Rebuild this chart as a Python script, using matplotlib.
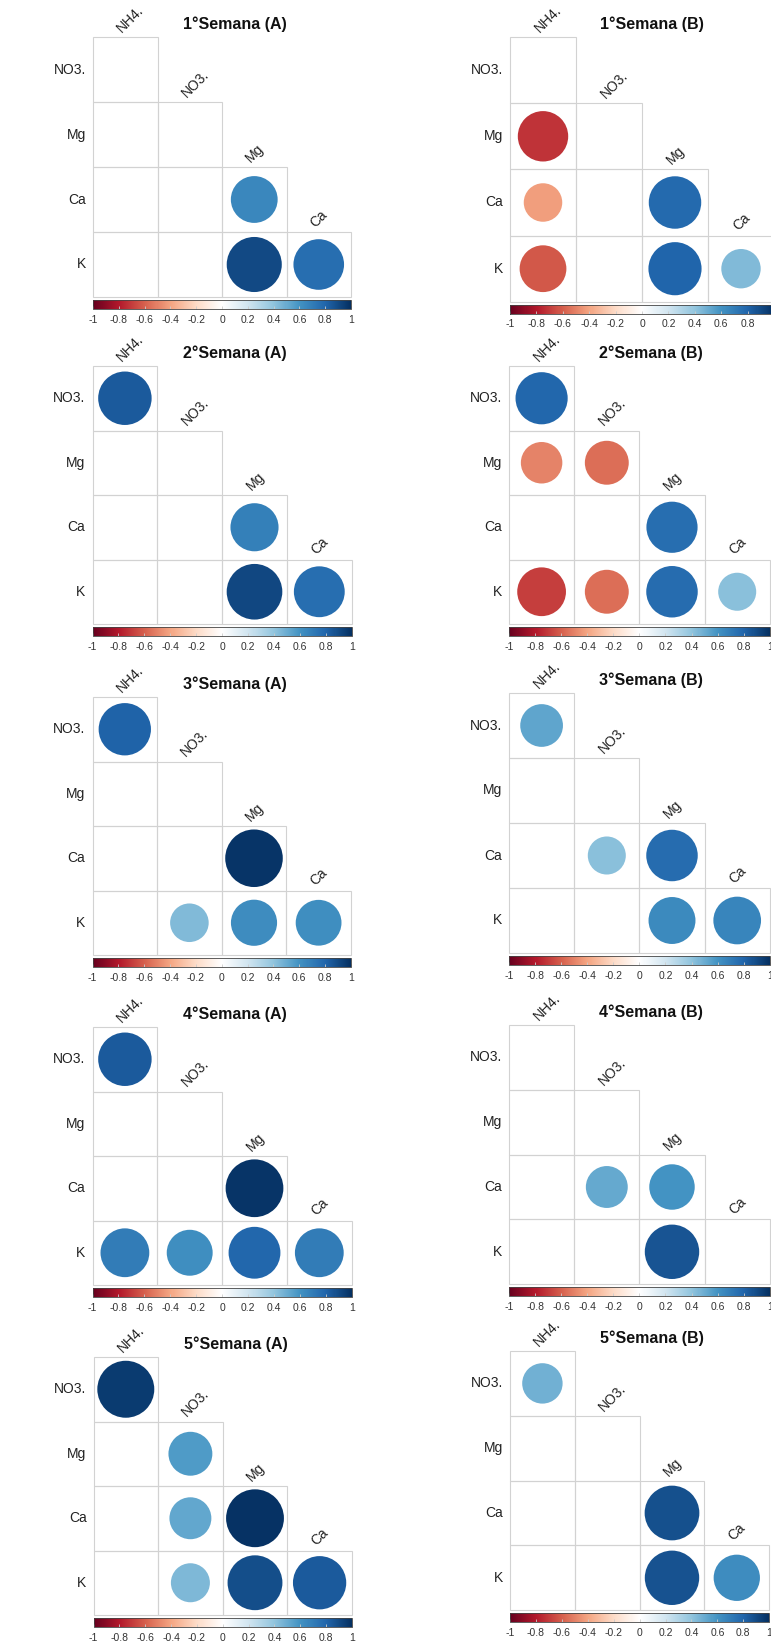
import numpy as np
import matplotlib
matplotlib.use("Agg")
import matplotlib.pyplot as plt
from matplotlib.colors import LinearSegmentedColormap, Normalize
from matplotlib.patches import Ellipse, Rectangle
from matplotlib.cm import ScalarMappable

plt.rcParams['font.family'] = ['Liberation Sans', 'DejaVu Sans']

NA = np.nan

# variables (rows and columns of the lower triangle)
row_labels = ["NO3.", "Mg", "Ca", "K"]
col_labels = ["NH4.", "NO3.", "Mg", "Ca"]

# significant correlations only, lower triangle row by row (blank = NA)
sem1_A = [[NA], [NA, NA], [NA, NA, 0.65], [NA, NA, 0.90, 0.76]]
sem1_B = [[NA], [-0.72, NA], [-0.42, NA, 0.78], [-0.62, NA, 0.80, 0.44]]
sem2_A = [[0.84], [NA, NA], [NA, NA, 0.68], [NA, NA, 0.91, 0.76]]
sem2_B = [[0.79], [-0.50, -0.56], [NA, NA, 0.76], [-0.69, -0.56, 0.77, 0.42]]
sem3_A = [[0.81], [NA, NA], [NA, NA, 0.98], [NA, 0.44, 0.63, 0.62]]
sem3_B = [[0.53], [NA, NA], [NA, 0.42, 0.77], [NA, NA, 0.64, 0.66]]
sem4_A = [[0.84], [NA, NA], [NA, NA, 0.98], [0.70, 0.62, 0.79, 0.70]]
sem4_B = [[NA], [NA, NA], [NA, 0.51, 0.60], [NA, NA, 0.86, NA]]
sem5_A = [[0.96], [NA, 0.57], [NA, 0.52, 0.99], [NA, 0.45, 0.89, 0.84]]
sem5_B = [[0.48], [NA, NA], [NA, NA, 0.88], [NA, NA, 0.87, 0.63]]

titles = ["1°Semana (A)", "1°Semana (B)", "2°Semana (A)", "2°Semana (B)",
          "3°Semana (A)", "3°Semana (B)", "4°Semana (A)", "4°Semana (B)",
          "5°Semana (A)", "5°Semana (B)"]
panels = [sem1_A, sem1_B, sem2_A, sem2_B, sem3_A, sem3_B,
          sem4_A, sem4_B, sem5_A, sem5_B]

cbar_ticks = [-1, -0.8, -0.6, -0.4, -0.2, 0, 0.2, 0.4, 0.6, 0.8, 1]

# grid position of each panel in pixels: left, top, cell width, cell height
geom = [(93, 37, 64.5, 65), (510, 37, 66, 66.2),
        (92.5, 366, 64.8, 64.5), (509, 366, 65.2, 64.5),
        (92.5, 697, 64.6, 64.5), (509, 693, 65.2, 65),
        (92.5, 1027, 64.8, 64.5), (509, 1025, 65.2, 64.8),
        (93.5, 1357, 64.6, 64.5), (510, 1351, 64.8, 64.8)]

W, H = 771, 1648
fig = plt.figure(figsize=(W / 100, H / 100), dpi=100)

# corrplot-like RdBu palette
cmap = LinearSegmentedColormap.from_list("rdbu", [
    "#67001F", "#B2182B", "#D6604D", "#F4A582", "#FDDBC7", "#FFFFFF",
    "#D1E5F0", "#92C5DE", "#4393C3", "#2166AC", "#053061"])
norm = Normalize(-1, 1)


def fx(px):
    return px / W


def fy(py):
    return 1 - py / H


txt_col = "#222222"

for k, data in enumerate(panels):
    left, top, cw, ch = geom[k]
    n = len(row_labels)
    ax = fig.add_axes([fx(left), fy(top + n * ch), cw * n / W, ch * n / H])
    ax.set_xlim(0, n)
    ax.set_ylim(n, 0)
    ax.axis("off")

    for i in range(n):
        for j in range(i + 1):
            ax.add_patch(Rectangle((j, i), 1, 1, facecolor="none",
                                   edgecolor="#d2d2d2", lw=0.8, clip_on=False))
            r = data[i][j]
            if not np.isnan(r):
                d = 0.9 * np.sqrt(abs(r))
                ax.add_patch(Ellipse((j + 0.5, i + 0.5), d, d * cw / ch,
                                     facecolor=cmap(norm(r)), edgecolor="none"))

    # row labels
    for i, lab in enumerate(row_labels):
        fig.text(fx(left - 7), fy(top + (i + 0.5) * ch), lab, ha="right",
                 va="center", fontsize=10, color=txt_col)
    # column labels on top of each diagonal cell
    for j, lab in enumerate(col_labels):
        fig.text(fx(left + (j + 0.5) * cw - 1), fy(top + j * ch - 2), lab,
                 rotation=45, rotation_mode="anchor", ha="left", va="bottom",
                 fontsize=10, color=txt_col)

    # title
    fig.text(fx(left + 142), fy(top - 13), titles[k], ha="center",
             va="center", fontsize=11.5, fontweight="bold", color="#111111")

    # color legend
    cax = fig.add_axes([fx(left), fy(top + n * ch + 12), cw * n / W, 9 / H])
    cb = fig.colorbar(ScalarMappable(norm=norm, cmap=cmap), cax=cax,
                      orientation="horizontal", ticks=cbar_ticks)
    cb.ax.set_xticklabels(["%g" % t for t in cbar_ticks])
    cb.ax.tick_params(direction="in", length=2.5, width=0.6, color="#cccccc",
                      labelsize=7.5, labelcolor="#333333", pad=4)
    cb.outline.set_edgecolor("#444444")
    cb.outline.set_linewidth(0.6)

fig.savefig("out.png", dpi=100, facecolor="white")
